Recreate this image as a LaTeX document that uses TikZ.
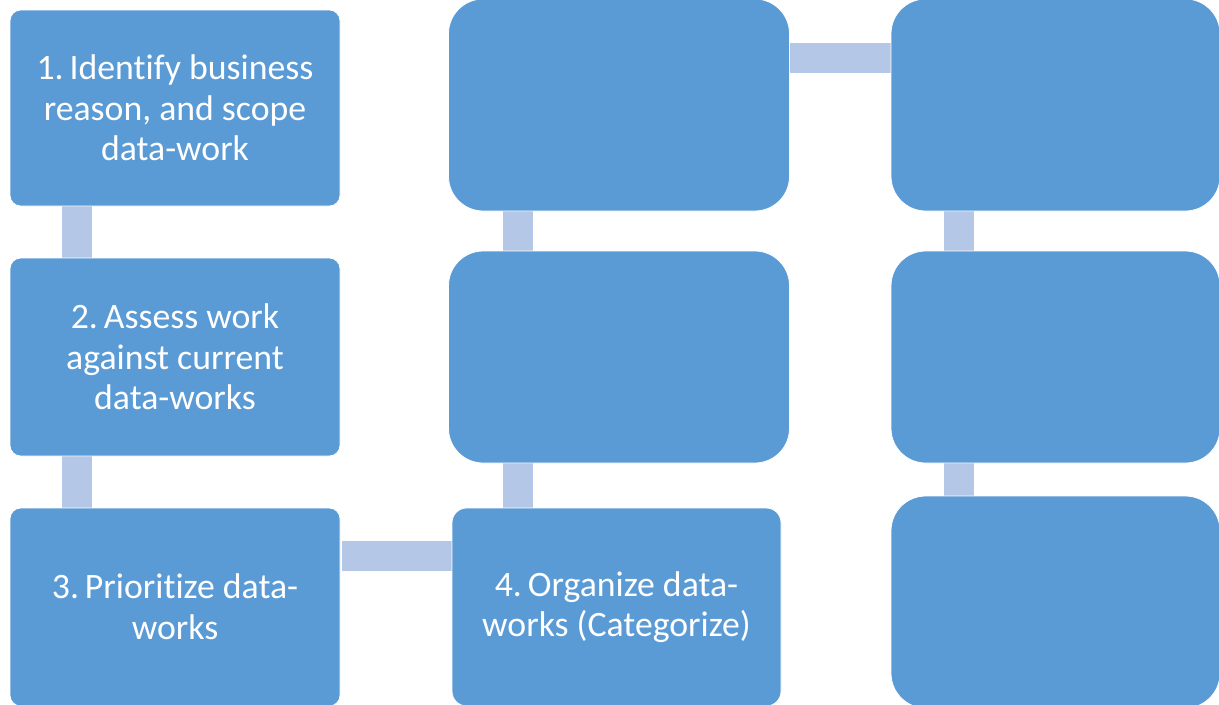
\documentclass[tikz,border=0pt]{standalone}
\usepackage{fontspec}
\setmainfont[Ligatures=NoCommon]{Carlito}
\usetikzlibrary{calc}

\definecolor{boxblue}{HTML}{5B9BD5}
\definecolor{linkblue}{HTML}{B4C7E7}

\begin{document}
\begin{tikzpicture}[x=0.75pt, y=-0.75pt,
	step box/.style={fill=boxblue, draw=white, line width=0.6pt, rounded corners=8pt,
		text=white, align=center, inner sep=0pt,
		font=\fontsize{26.8}{30.5}\selectfont},
	link/.style={draw=linkblue, line width=22.5pt, line cap=butt}]
	\useasboundingbox (0, 0) rectangle (1219, 704);

	% links first, boxes on top
	\coordinate (l12a) at (77, 206);  \coordinate (l12b) at (77, 258);
	\coordinate (l23a) at (77, 456);  \coordinate (l23b) at (77, 508);
	\coordinate (l34a) at (342, 556); \coordinate (l34b) at (452, 556);
	\coordinate (l45a) at (518, 508); \coordinate (l45b) at (518, 462);
	\coordinate (l56a) at (518, 252); \coordinate (l56b) at (518, 210);
	\coordinate (l67a) at (789, 57.5); \coordinate (l67b) at (891, 57.5);
	\coordinate (l78a) at (959, 210); \coordinate (l78b) at (959, 252);
	\coordinate (l89a) at (959, 462); \coordinate (l89b) at (959, 497);

	\draw[link] (l12a) -- (l12b);
	\draw[link] (l23a) -- (l23b);
	\draw[link] (l34a) -- (l34b);
	\draw[link] (l45a) -- (l45b);
	\draw[link] (l56a) -- (l56b);
	\draw[link] (l67a) -- (l67b);
	\draw[link] (l78a) -- (l78b);
	\draw[link] (l89a) -- (l89b);

	% left column
	\node[step box, minimum width=247.5pt, minimum height=147pt] (identify) at (175, 108)
		{1.\,Identify business\\reason, and scope\\data-work};
	\node[step box, minimum width=247.5pt, minimum height=148.5pt] (assess) at (175, 357)
		{2.\,Assess work\\against current\\data-works};
	\node[step box, minimum width=247.5pt, minimum height=148.5pt] (prioritize) at (175, 607)
		{3.\,Prioritize data-\\works};

	% middle column
	\node[step box, rounded corners=11pt, minimum width=246.75pt, minimum height=148.5pt] (organize) at (616.5, 607)
		{4.\,Organize data-\\works (Categorize)};
	\node[step box, rounded corners=26pt, minimum width=255.75pt, minimum height=159pt] (midtwo) at (619, 357) {};
	\node[step box, rounded corners=26pt, minimum width=255.75pt, minimum height=159pt] (midone) at (619, 105) {};

	% right column
	\node[step box, rounded corners=26pt, minimum width=246.75pt, minimum height=159pt] (rightone) at (1055.5, 105) {};
	\node[step box, rounded corners=26pt, minimum width=246.75pt, minimum height=159pt] (righttwo) at (1055.5, 357) {};
	\node[step box, rounded corners=26pt, minimum width=246.75pt, minimum height=159pt] (rightthree) at (1055.5, 602) {};
\end{tikzpicture}
\end{document}
